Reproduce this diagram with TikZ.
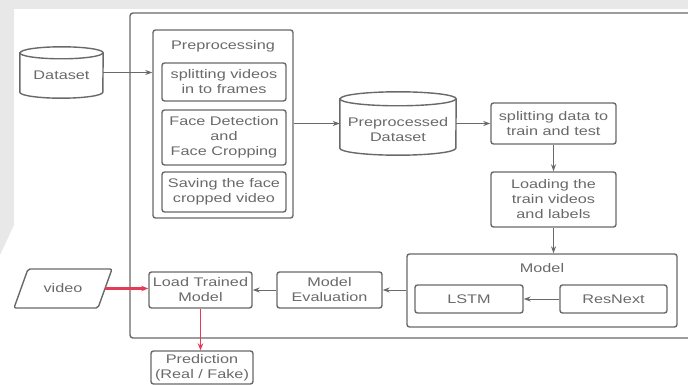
\documentclass[tikz,border=0pt]{standalone}
\usepackage{fontspec}
\setmainfont{Liberation Sans}[FakeStretch=1.3]
\usetikzlibrary{arrows.meta,calc}
\definecolor{lc}{RGB}{105,105,105}
\definecolor{tc}{RGB}{105,105,105}
\definecolor{rc}{RGB}{228,60,88}
\definecolor{wm}{RGB}{232,232,232}
\newcommand\cylout[3]{%
  \draw[ln] ([yshift=-#2]#1.north west) -- ([yshift=#2]#1.south west)
    arc[start angle=180,end angle=360,x radius=#3,y radius=#2]
    -- ([yshift=-#2]#1.north east)
    arc[start angle=0,end angle=180,x radius=#3,y radius=#2] -- cycle;
  \draw[ln] ([yshift=-#2]#1.north west)
    arc[start angle=180,end angle=360,x radius=#3,y radius=#2];}
\tikzset{
  ln/.style={draw=lc,line width=1.4pt},
  txt/.style={text=tc,align=center,inner sep=0pt,font=\fontsize{12.5}{15}\selectfont},
  box/.style={txt,ln,rounded corners=2.5pt},
  cylbox/.style={txt,draw=none},
  arr/.style={draw=lc,line width=1pt,-{Stealth[length=7pt,width=5pt]}},
  rarr/.style={draw=rc,line width=1.4pt,-{Stealth[length=7pt,width=5.5pt]}},
}
\begin{document}
\begin{tikzpicture}[x=1pt,y=-1pt]
\useasboundingbox (0,0) rectangle (688,385);
% faint watermark background
\fill[wm] (0,0) rectangle (688,9);
\fill[wm] (0,0) -- (14,0) -- (14,225) -- (0,255) -- cycle;
% outer frame
\draw[ln,rounded corners=3pt] (130,13) rectangle (694,338);
% preprocessing group
\node[box,minimum width=140pt,minimum height=188pt] (pre) at (223,124) {};
\node[txt] (pret) at (223,46) {Preprocessing};
\node[box,minimum width=124pt,minimum height=38pt] (s1) at (224,82) {splitting videos\\in to frames};
\node[box,minimum width=124pt,minimum height=55pt] (s2) at (224,137.5) {Face Detection\\and\\Face Cropping};
\node[box,minimum width=124pt,minimum height=40pt] (s3) at (224,192) {Saving the face\\cropped video};
% dataset cylinder
\node[cylbox,minimum width=83pt,minimum height=51pt] (ds) at (61.5,72.5) {};
\cylout{ds}{6pt}{41.5pt}
\node[txt] (dst) at (61.5,75) {Dataset};
% preprocessed dataset cylinder
\node[cylbox,minimum width=116pt,minimum height=63pt] (pd) at (398,123.5) {};
\cylout{pd}{7pt}{58pt}
\node[txt] (pdt) at (398,129.5) {Preprocessed\\Dataset};
% right column
\node[box,minimum width=125pt,minimum height=41pt] (sp) at (553.5,123.5) {splitting data to\\train and test};
\node[box,minimum width=125pt,minimum height=55pt] (ld) at (553.5,199.5) {Loading the\\train videos\\and labels};
% model group
\node[box,minimum width=270pt,minimum height=73pt] (md) at (542,290.5) {};
\node[txt] (mdt) at (542,268) {Model};
\node[box,minimum width=108pt,minimum height=28pt] (ls) at (469,299) {LSTM};
\node[box,minimum width=107pt,minimum height=28pt] (rn) at (613.5,299) {ResNext};
% bottom row
\node[box,minimum width=105pt,minimum height=36pt] (me) at (329.5,290) {Model\\Evaluation};
\node[box,minimum width=103pt,minimum height=36pt] (lt) at (200.5,290) {Load Trained\\Model};
\node[box,minimum width=102pt,minimum height=33pt] (pr) at (202,367.5) {Prediction\\(Real / Fake)};
% video parallelogram
\node[txt,minimum width=84pt,minimum height=39pt] (vid) at (63,288.5) {video};
\draw[ln,rounded corners=2pt] (14,308) -- (28,269) -- (112,269) -- (98,308) -- cycle;
% connectors
\draw[arr] (ds.east) -- (pre.west |- ds.east);
\draw[arr] (pre.east |- pd.west) -- (pd.west);
\draw[arr] (pd.east) -- (sp.west);
\draw[arr] (sp.south) -- (ld.north);
\draw[arr] (ld.south) -- (md.north -| ld.south);
\draw[arr] (rn.west) -- (ls.east);
\draw[arr] (md.west |- me.east) -- (me.east);
\draw[arr] (me.west) -- (lt.east);
\draw[rarr,line width=2.2pt] (vid.east) -- (lt.west |- vid.east);
\draw[rarr] (lt.south) -- (pr.north -| lt.south);
\end{tikzpicture}
\end{document}
